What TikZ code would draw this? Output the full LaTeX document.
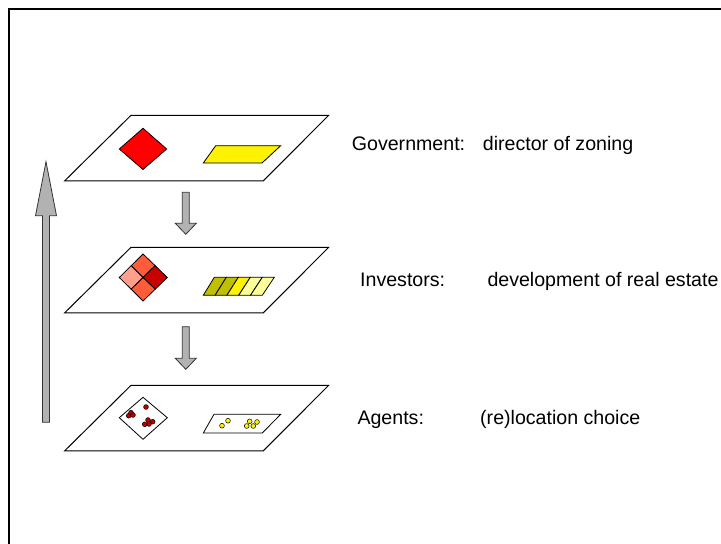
\documentclass[tikz,border=0pt]{standalone}
\usepackage{fontspec}
\setmainfont{Liberation Sans}
\definecolor{zonered}{RGB}{255,0,0}
\definecolor{quadmid}{RGB}{255,92,60}
\definecolor{quadlight}{RGB}{255,160,140}
\definecolor{quaddark}{RGB}{200,0,0}
\definecolor{barolive}{RGB}{192,192,0}
\definecolor{barlight}{RGB}{255,255,153}
\definecolor{dotred}{RGB}{192,0,0}
\begin{document}
\begin{tikzpicture}[
		x=1pt, y=-1pt,
		line join=miter,
		plane/.style={draw, fill=white, line width=1pt},
		zone/.style={draw, line width=0.8pt},
		dot/.style={draw, line width=0.5pt},
		blockarrow/.style={draw=black!80, fill=gray!60, line width=0.8pt},
		lvltext/.style={anchor=base west, inner sep=0pt, font=\fontsize{19.6}{23}\selectfont},
		]
		\useasboundingbox (0,0) rectangle (721,544);
		
		%frame
		\draw[line width=2pt] (8.5,544) -- (8.5,9) -- (721,9);
		
		%planes
		\foreach \y in {115.3, 247.3, 385.3}
			\draw[plane] (131,\y) -- (328.7,\y) -- (263.3,{\y+65.5}) -- (64.7,{\y+65.5}) -- cycle;
		
		%government
		\draw[zone, fill=zonered] (119.3,149) -- (143,128.3) -- (166.7,149) -- (143,169.5) -- cycle;
		\draw[zone, fill=yellow] (215.7,145.7) -- (280.7,145.7) -- (262,163) -- (203.3,163) -- cycle;
		
		%investors
		\draw[zone, fill=quadmid] (143,254) -- (155.2,265.7) -- (143,277.5) -- (131.2,265.7) -- cycle;
		\draw[zone, fill=quadlight] (119.3,277.5) -- (131.2,265.7) -- (143,277.5) -- (131.2,289.2) -- cycle;
		\draw[zone, fill=quaddark] (167.3,277.5) -- (155.2,265.7) -- (143,277.5) -- (155.2,289.2) -- cycle;
		\draw[zone, fill=quadmid] (143,301) -- (131.2,289.2) -- (143,277.5) -- (155.2,289.2) -- cycle;
		\foreach \i/\c in {0/barolive, 1/barolive, 2/yellow, 3/barlight, 4/barlight}
			\draw[zone, fill=\c] ({214.3+12*\i},277.3) -- ({226.3+12*\i},277.3) -- ({215.1+11.8*\i},295.3) -- ({203.3+11.8*\i},295.3) -- cycle;
		
		%agents
		\draw[zone, fill=white] (119.3,417.7) -- (143,397.3) -- (167.3,417.7) -- (143,439.3) -- cycle;
		\draw[zone, fill=white] (214,414.3) -- (280.7,414.3) -- (262.3,433) -- (203.3,433) -- cycle;
		\foreach \p in {(146,407), (128.7,415.7), (131,412.7), (133,415), (148,420), (152.7,421.7), (149,424), (144.7,424.3)}
			\draw[dot, fill=dotred] \p circle (2.4pt);
		\foreach \p in {(228,420.7), (222,425.7), (249.7,421.3), (257,422), (253.3,426), (246.7,426)}
			\draw[dot, fill=yellow] \p circle (2.4pt);
		
		%arrows
		\draw[blockarrow] (42.5,422.3) -- (42.5,215.7) -- (35.5,215.7) -- (46,161.7) -- (56.5,215.7) -- (49.5,215.7) -- (49.5,422.3) -- cycle;
		\foreach \top/\base/\tip in {192.3/223.3/234.3, 326.7/358.3/369.3}
			\draw[blockarrow] (182.3,\top) -- (182.3,\base) -- (175.3,\base) -- (185.8,\tip) -- (196.3,\base) -- (189.3,\base) -- (189.3,\top) -- cycle;
		
		%labels
		\node[lvltext] (govrole) at (351.7,150.5) {Government:};
		\node[lvltext] (govtask) at (482.7,150.5) {director of zoning};
		\node[lvltext] (invrole) at (360,286.5) {Investors:};
		\node[lvltext] (invtask) at (487.3,286.5) {development of real estate};
		\node[lvltext] (agtrole) at (357.3,424.5) {Agents:};
		\node[lvltext] (agttask) at (480,424.5) {(re)location choice};
	\end{tikzpicture}
\end{document}
